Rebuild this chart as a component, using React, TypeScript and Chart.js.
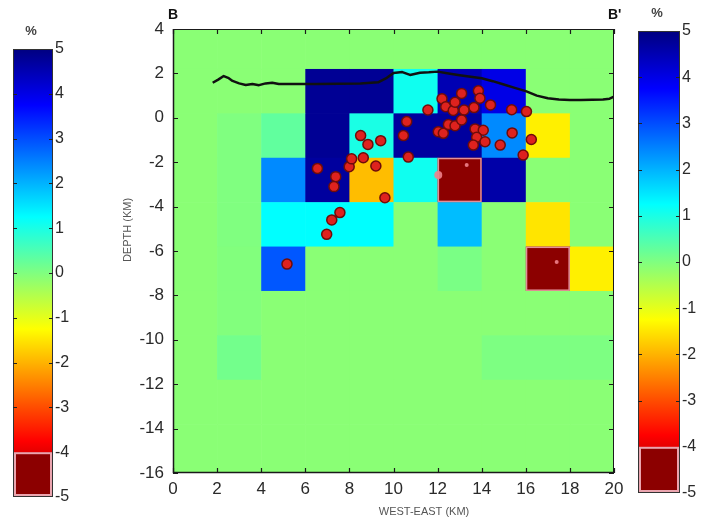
import { useEffect, useRef } from 'react';
import { Chart, registerables } from 'chart.js';

Chart.register(...registerables);

// ---------- DATA ----------
const xTickValues = [0, 2, 4, 6, 8, 10, 12, 14, 16, 18, 20];
const yTickValues = [4, 2, 0, -2, -4, -6, -8, -10, -12, -14, -16];
const colorbarTickValues = [5, 4, 3, 2, 1, 0, -1, -2, -3, -4, -5];

// cell grid edges (km)
const cellColEdges = [0, 2, 4, 6, 8, 10, 12, 14, 16, 18, 20];
const cellRowEdges = [4, 2.2, 0.2, -1.8, -3.8, -5.8, -7.8, -9.8, -11.8, -13.8, -16];

const B = -0.1; // background anomaly (%)
// anomaly values (%) per row (top to bottom), columns west to east
const cellValues = [
  [B, B, B, B, B, B, B, B, B, B],
  [B, B, B, 4.8, 4.8, 1.1, 4.5, 4.0, B, B],
  [B, 0.0, 0.3, 4.8, 1.0, 4.7, 4.7, 2.4, -1.4, B],
  [B, 0.0, 2.4, 4.7, -1.9, 1.1, -4.8, 4.6, B, B],
  [B, 0.0, 1.25, 1.25, 1.25, B, 1.9, B, -1.5, B],
  [B, -0.02, 2.9, B, B, B, 0.05, B, -4.8, -1.4],
  [B, -0.02, B, B, B, B, B, B, B, B],
  [B, 0.12, B, B, B, B, B, 0.02, 0.02, 0.02],
  [B, B, B, B, B, B, B, B, B, B],
  [B, B, B, B, B, B, B, B, B, B],
];

// earthquake hypocentres
const quakeX = [5.17, 6.97, 7.2, 7.57, 6.55, 7.38, 7.3, 9.61, 7.99, 8.1, 8.63, 9.2, 8.51, 8.84, 9.42,
  10.6, 10.45, 10.67, 11.56, 12.2, 12.37, 12.03, 12.26, 12.49, 12.79, 12.71, 13.09, 13.85, 13.92, 14.4,
  12.79, 13.2, 13.65, 15.36, 16.03, 13.7, 14.07, 13.77, 14.15, 13.62, 15.38, 14.84, 16.25, 15.88, 13.09];
const quakeY = [-6.59, -5.25, -4.6, -4.27, -2.28, -2.65, -3.1, -3.6, -2.2, -1.85, -1.8, -2.17, -0.8, -1.2, -1.03,
  -0.17, -0.8, -1.77, 0.35, 0.86, 0.5, -0.63, -0.7, -0.3, -0.36, 0.33, 1.1, 1.22, 0.88, 0.58,
  0.7, 0.35, 0.46, 0.36, 0.28, -0.5, -0.56, -0.88, -1.08, -1.23, -0.68, -1.23, -0.98, -1.68, -0.1];

// faint (hidden) events
const faintX = [12.03, 13.32, 17.4];
const faintY = [-2.58, -2.13, -6.5];

// topography profile
const topoX = [1.8, 2.05, 2.3, 2.5, 2.7, 3.0, 3.3, 3.6, 3.9, 4.2, 4.5, 4.8, 5.5, 6.5, 7.5, 8.5, 9.3, 9.7,
  10.0, 10.4, 10.75, 11.2, 11.6, 12.0, 12.5, 13.0, 13.5, 14.0, 14.5, 15.0, 15.5, 16.0, 16.5, 17.0, 17.5,
  18.0, 18.5, 19.0, 19.5, 19.8, 20.0];
const topoY = [1.58, 1.72, 1.88, 1.8, 1.66, 1.55, 1.48, 1.52, 1.47, 1.55, 1.58, 1.52, 1.52, 1.52, 1.53, 1.55, 1.6, 1.8,
  2.02, 2.06, 1.93, 2.03, 2.05, 2.08, 2.0, 1.92, 1.85, 1.78, 1.65, 1.5, 1.35, 1.2, 1.0, 0.88, 0.82,
  0.8, 0.8, 0.81, 0.82, 0.86, 0.95];

// ---------- STYLE ----------
const NARROW = "'Liberation Sans Narrow', 'Liberation Sans', Arial, sans-serif";
const SANS = "'Liberation Sans', Arial, sans-serif";
const TICK_COLOR = '#2a2a2a';
const SATURATED = 'rgb(140,0,0)';
const SAT_BORDER = 'rgb(235,165,175)';

function jet(v: number): string {
  if (v < -4) return SATURATED;
  const t = (5 - v) / 10;
  const c = (a: number) => Math.max(0, Math.min(1, a));
  const r = c(1.5 - Math.abs(4 * t - 3));
  const g = c(1.5 - Math.abs(4 * t - 2));
  const b = c(1.5 - Math.abs(4 * t - 1));
  return `rgb(${Math.round(r * 255)},${Math.round(g * 255)},${Math.round(b * 255)})`;
}

const cellsPlugin = {
  id: 'cells',
  beforeDatasetsDraw(chart: any) {
    const { ctx, chartArea, scales } = chart;
    const xs = scales.x, ys = scales.y;
    ctx.save();
    ctx.beginPath();
    ctx.rect(chartArea.left, chartArea.top, chartArea.right - chartArea.left, chartArea.bottom - chartArea.top);
    ctx.clip();
    cellValues.forEach((row, r) => {
      row.forEach((v, c) => {
        const x0 = xs.getPixelForValue(cellColEdges[c]);
        const x1 = xs.getPixelForValue(cellColEdges[c + 1]);
        const y0 = ys.getPixelForValue(cellRowEdges[r]);
        const y1 = ys.getPixelForValue(cellRowEdges[r + 1]);
        ctx.fillStyle = jet(v);
        ctx.fillRect(x0, y0, x1 - x0 + 0.6, y1 - y0 + 0.6);
      });
    });
    cellValues.forEach((row, r) => {
      row.forEach((v, c) => {
        if (v >= -4) return;
        const x0 = xs.getPixelForValue(cellColEdges[c]);
        const x1 = xs.getPixelForValue(cellColEdges[c + 1]);
        const y0 = ys.getPixelForValue(cellRowEdges[r]);
        const y1 = ys.getPixelForValue(cellRowEdges[r + 1]);
        ctx.strokeStyle = 'rgba(235,160,170,0.9)';
        ctx.lineWidth = 1.5;
        ctx.strokeRect(x0 + 0.75, y0 + 0.75, x1 - x0 - 1.5, y1 - y0 - 1.5);
      });
    });
    ctx.restore();
  },
};

const framePlugin = {
  id: 'frame',
  afterDatasetsDraw(chart: any) {
    const { ctx, chartArea: a, scales } = chart;
    const xs = scales.x, ys = scales.y;
    ctx.save();
    ctx.strokeStyle = '#1a1a1a';
    ctx.lineWidth = 1;
    ctx.strokeRect(a.left + 0.5, a.top + 0.5, a.right - a.left - 1, a.bottom - a.top - 1);
    ctx.lineWidth = 1.5;
    ctx.beginPath();
    ctx.moveTo(a.left + 0.5, a.top);
    ctx.lineTo(a.left + 0.5, a.bottom - 0.5);
    ctx.lineTo(a.right, a.bottom - 0.5);
    ctx.stroke();
    ctx.lineWidth = 1.2;
    const L = 5;
    ctx.beginPath();
    xs.ticks.forEach((t: any) => {
      const px = Math.round(xs.getPixelForValue(t.value)) + 0.5;
      ctx.moveTo(px, a.bottom); ctx.lineTo(px, a.bottom - L);
      ctx.moveTo(px, a.top); ctx.lineTo(px, a.top + L);
    });
    ys.ticks.forEach((t: any) => {
      const py = Math.round(ys.getPixelForValue(t.value)) + 0.5;
      ctx.moveTo(a.left, py); ctx.lineTo(a.left + L, py);
      ctx.moveTo(a.right, py); ctx.lineTo(a.right - L, py);
    });
    ctx.stroke();
    ctx.restore();
  },
  afterDraw(chart: any) {
    const { ctx, chartArea: a } = chart;
    ctx.save();
    ctx.fillStyle = '#111';
    ctx.font = `bold 14px ${SANS}`;
    ctx.textBaseline = 'middle';
    ctx.textAlign = 'left';
    ctx.fillText('B', a.left - 5, 15);
    ctx.fillText("B'", a.right - 6, 15);
    ctx.fillStyle = '#555';
    ctx.font = `11px ${SANS}`;
    ctx.textAlign = 'center';
    ctx.fillText('WEST-EAST (KM)', a.left + 251, 512);
    ctx.translate(28, 230);
    ctx.rotate(-Math.PI / 2);
    ctx.fillText('DEPTH (KM)', 0, 0);
    ctx.restore();
  },
};

function colorbarFramePlugin(pctX: number, pctY: number) {
  return {
    id: 'cbframe',
    afterDatasetsDraw(chart: any) {
      const { ctx, chartArea: a, scales } = chart;
      const ys = scales.y;
      ctx.save();
      // pink outline of the saturated box
      const yTop = ys.getPixelForValue(-4);
      const yBot = ys.getPixelForValue(-5);
      ctx.strokeStyle = SAT_BORDER;
      ctx.lineWidth = 2;
      ctx.strokeRect(a.left + 2, yTop + 1, a.right - a.left - 4, yBot - yTop - 3);
      ctx.strokeStyle = '#333';
      ctx.lineWidth = 1;
      ctx.strokeRect(a.left + 0.5, a.top + 0.5, a.right - a.left - 1, a.bottom - a.top - 1);
      ctx.strokeStyle = '#222';
      ctx.lineWidth = 1.2;
      ctx.beginPath();
      ys.ticks.forEach((t: any) => {
        if (t.value === 5 || t.value <= -4) return;
        const py = Math.round(ys.getPixelForValue(t.value)) + 0.5;
        ctx.moveTo(a.left, py); ctx.lineTo(a.left + 4, py);
        ctx.moveTo(a.right, py); ctx.lineTo(a.right - 4, py);
      });
      ctx.stroke();
      ctx.restore();
    },
    afterDraw(chart: any) {
      const { ctx } = chart;
      ctx.save();
      ctx.fillStyle = '#444';
      ctx.font = `bold 13px ${SANS}`;
      ctx.textAlign = 'center';
      ctx.textBaseline = 'middle';
      ctx.fillText('%', pctX, pctY);
      ctx.restore();
    },
  };
}

function makeColorbar(canvas: HTMLCanvasElement, pad: any, axisWidth: number, pctX: number, pctY: number) {
  const gradient = (c: any) => {
    const ch = c.chart;
    if (!ch.chartArea) return 'rgb(128,255,128)';
    const ys = ch.scales.y;
    const top = ys.getPixelForValue(colorbarTickValues[0]);
    const bot = ys.getPixelForValue(-4);
    const g = ch.ctx.createLinearGradient(0, top, 0, bot);
    const n = 36;
    for (let i = 0; i <= n; i++) {
      const v = 5 - (9 * i) / n;
      g.addColorStop(i / n, jet(v));
    }
    return g;
  };
  return new Chart(canvas, {
    type: 'bar',
    data: {
      labels: ['%'],
      datasets: [
        {
          data: [[-4, 5]] as any,
          backgroundColor: gradient as any,
          borderWidth: 0,
          barPercentage: 1,
          categoryPercentage: 1,
          grouped: false,
        },
        {
          data: [[-5, -4]] as any,
          backgroundColor: SATURATED,
          borderWidth: 0,
          barPercentage: 1,
          categoryPercentage: 1,
          grouped: false,
        },
      ],
    },
    options: {
      responsive: false,
      animation: false,
      layout: { padding: pad },
      plugins: { legend: { display: false }, tooltip: { enabled: false } },
      scales: {
        x: { display: false },
        y: {
          position: 'right',
          min: -5,
          max: 5,
          ticks: {
            stepSize: 1,
            color: TICK_COLOR,
            padding: 2,
            font: { family: NARROW, size: 16 },
            callback: (v: any) => String(v),
          },
          grid: { display: false, drawTicks: false },
          border: { display: false },
          afterFit: (s: any) => { s.width = axisWidth; },
        },
      },
    },
    plugins: [colorbarFramePlugin(pctX, pctY)],
  } as any);
}

export default function App() {
  const mainRef = useRef<HTMLCanvasElement>(null);
  const leftRef = useRef<HTMLCanvasElement>(null);
  const rightRef = useRef<HTMLCanvasElement>(null);

  useEffect(() => {
    const charts: Chart[] = [];
    if (mainRef.current) {
      charts.push(new Chart(mainRef.current, {
        type: 'scatter',
        data: {
          datasets: [
            {
              data: quakeX.map((x, i) => ({ x, y: quakeY[i] })),
              backgroundColor: 'rgb(222,34,30)',
              borderColor: 'rgb(110,12,10)',
              borderWidth: 1.5,
              pointRadius: 5,
              order: 0,
            },
            {
              data: faintX.map((x, i) => ({ x, y: faintY[i] })),
              backgroundColor: 'rgba(238,130,140,0.9)',
              borderWidth: 0,
              pointRadius: [4, 2, 2],
              order: 1,
            },
            {
              type: 'line',
              data: topoX.map((x, i) => ({ x, y: topoY[i] })),
              borderColor: '#111',
              borderWidth: 2.5,
              pointRadius: 0,
              fill: false,
              tension: 0,
              borderJoinStyle: 'round',
              order: 2,
            },
          ],
        },
        options: {
          responsive: false,
          animation: false,
          layout: { padding: { left: 0, top: 29, right: 26, bottom: 0 } },
          plugins: { legend: { display: false }, tooltip: { enabled: false } },
          scales: {
            x: {
              type: 'linear',
              min: xTickValues[0],
              max: xTickValues[xTickValues.length - 1],
              ticks: {
                stepSize: 2,
                color: TICK_COLOR,
                padding: 6,
                maxRotation: 0,
                autoSkip: false,
                font: { family: NARROW, size: 17 },
              },
              grid: { display: false, drawTicks: false },
              border: { display: false },
              afterFit: (s: any) => { s.height = 45; },
            },
            y: {
              type: 'linear',
              min: yTickValues[yTickValues.length - 1],
              max: yTickValues[0],
              ticks: {
                stepSize: 2,
                color: TICK_COLOR,
                padding: 9,
                autoSkip: false,
                font: { family: NARROW, size: 17 },
              },
              grid: { display: false, drawTicks: false },
              border: { display: false },
              afterFit: (s: any) => { s.width = 73; },
            },
          },
        },
        plugins: [cellsPlugin, framePlugin],
      } as any));
    }
    if (leftRef.current) {
      charts.push(makeColorbar(leftRef.current, { left: 13, top: 49, right: 17, bottom: 21 }, 30, 31, 31));
    }
    if (rightRef.current) {
      charts.push(makeColorbar(rightRef.current, { left: 18, top: 31, right: 0, bottom: 25 }, 26, 37, 13));
    }
    return () => charts.forEach((c) => c.destroy());
  }, []);

  return (
    <div style={{ position: 'absolute', left: 0, top: 0, width: 706, height: 518, background: '#fff', overflow: 'hidden' }}>
      <canvas ref={leftRef} width={100} height={518} style={{ position: 'absolute', left: 0, top: 0, width: 100, height: 518 }} />
      <canvas ref={mainRef} width={540} height={518} style={{ position: 'absolute', left: 100, top: 0, width: 540, height: 518 }} />
      <canvas ref={rightRef} width={86} height={518} style={{ position: 'absolute', left: 620, top: 0, width: 86, height: 518 }} />
    </div>
  );
}
